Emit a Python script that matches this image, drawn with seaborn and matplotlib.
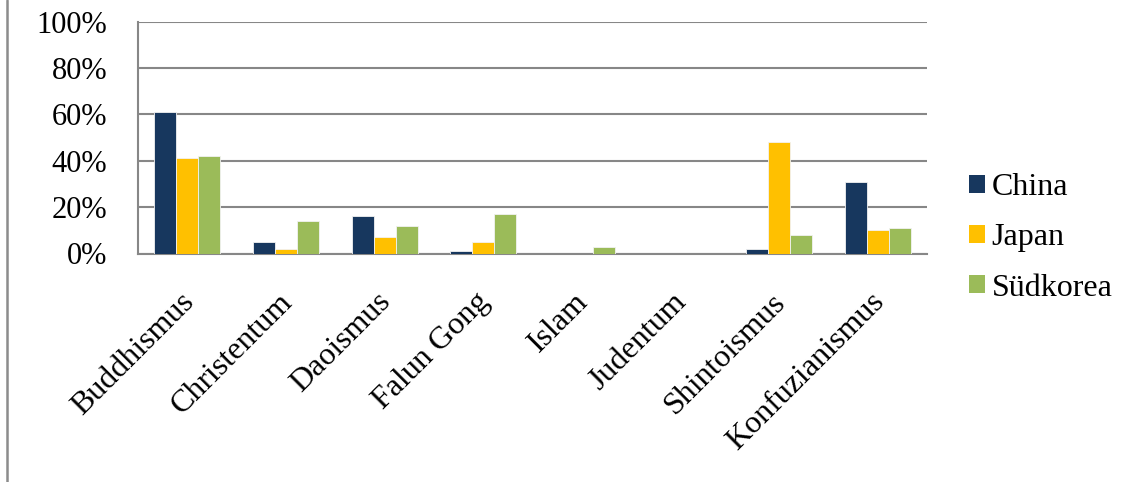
import matplotlib
matplotlib.use("Agg")
import matplotlib.pyplot as plt
import matplotlib.transforms as mtransforms
from matplotlib.lines import Line2D
from matplotlib.patches import Patch
import seaborn as sns
import pandas as pd

categories = ["Buddhismus", "Christentum", "Daoismus", "Falun Gong",
              "Islam", "Judentum", "Shintoismus", "Konfuzianismus"]
countries = ["China", "Japan", "Südkorea"]
china = [61, 5, 16, 1, 0, 0, 2, 31]
japan = [41, 2, 7, 5, 0, 0, 48, 10]
suedkorea = [42, 14, 12, 17, 3, 0, 8, 11]
y_ticks = [0, 20, 40, 60, 80, 100]
y_tick_labels = ["0%", "20%", "40%", "60%", "80%", "100%"]

colors = ["#17375E", "#FFC000", "#9BBB59"]

df = pd.DataFrame({
    "Religion": categories * 3,
    "Land": sum([[c] * len(categories) for c in countries], []),
    "Anteil": china + japan + suedkorea,
})

sns.set_style("white")
plt.rcParams["font.family"] = ["Liberation Serif", "DejaVu Serif"]
plt.rcParams["text.color"] = "black"
plt.rcParams["xtick.color"] = "black"
plt.rcParams["ytick.color"] = "black"

FS_Y = 22
FS_X = 23
FS_LEG = 23

fig = plt.figure(figsize=(11.31, 4.82), dpi=100)
ax = fig.add_axes([138 / 1131, 1 - 253.5 / 482, (927 - 138) / 1131, (253.5 - 21.7) / 482])

sns.barplot(data=df, x="Religion", y="Anteil", hue="Land", order=categories,
            hue_order=countries, palette=colors, saturation=1, width=0.67, ax=ax,
            edgecolor="#F2F2F2", linewidth=0.6, legend=False, zorder=3)

ax.set_ylim(0, 100)
ax.set_xlim(-0.5, len(categories) - 0.5)
ax.set_yticks(y_ticks)
ax.set_yticklabels(y_tick_labels)
ax.yaxis.grid(True, color="#878787", linewidth=1.5, zorder=0)
ax.set_axisbelow(True)
ax.set_xlabel("")
ax.set_ylabel("")

for side in ["top", "right"]:
    ax.spines[side].set_visible(False)
for side in ["left", "bottom"]:
    ax.spines[side].set_color("#878787")
    ax.spines[side].set_linewidth(1.5)

ax.tick_params(axis="y", length=0, pad=22, labelsize=FS_Y, labelcolor="black")
ax.tick_params(axis="x", length=0, pad=0, labelsize=FS_X, labelcolor="black")

ax.set_xticks(range(len(categories)))
ax.set_xticklabels(categories, rotation=45, ha="right", va="center",
                   rotation_mode="anchor")
shift = mtransforms.ScaledTranslation(2 / 100, -44 / 100, fig.dpi_scale_trans)
for lbl in ax.get_xticklabels():
    lbl.set_transform(lbl.get_transform() + shift)

handles = [Patch(facecolor=c, edgecolor="none") for c in colors]
fig.legend(handles, countries, loc="center left",
           bbox_to_anchor=(956 / 1131, 1 - 238 / 482), frameon=False,
           fontsize=FS_LEG, handlelength=0.5, handleheight=0.5,
           handletextpad=0.22, labelspacing=0.66, borderaxespad=0)

# outer frame line on the left edge of the chart area
fig.add_artist(Line2D([6.5 / 1131, 6.5 / 1131], [0, 1], transform=fig.transFigure,
                      color="#8C8C8C", linewidth=1.8))

fig.savefig("out.png", dpi=100)
